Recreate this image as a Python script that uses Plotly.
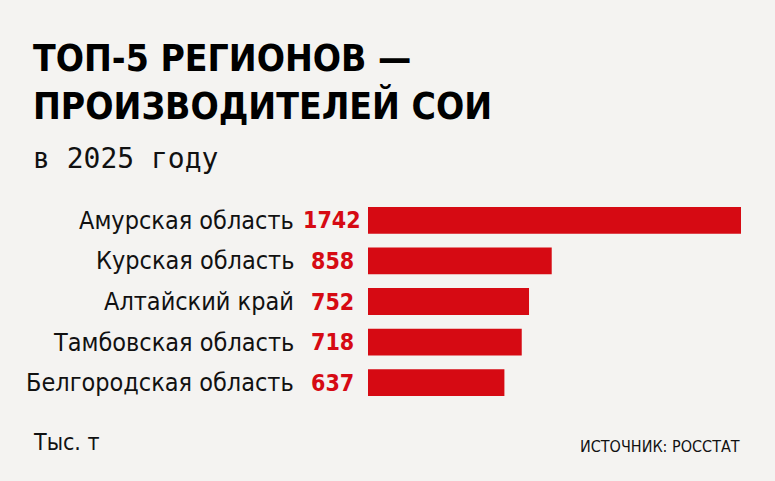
import plotly.graph_objects as go

# data
regions = [
    "Амурская область",
    "Курская область",
    "Алтайский край",
    "Тамбовская область",
    "Белгородская область",
]
values = [1742, 858, 752, 718, 637]
title_lines = ["ТОП-5 РЕГИОНОВ —", "ПРОИЗВОДИТЕЛЕЙ СОИ"]
subtitle = "в 2025 году"
unit_note = "Тыс. т"
source_note = "ИСТОЧНИК: РОССТАТ"

W, H = 775, 481
L, R, T, B = 368, 34, 200, 78
pw = W - L - R
ph = H - T - B

BG = "#f4f3f1"
RED = "#d60a13"
FONT = "DejaVu Sans Condensed, Roboto, sans-serif"


def px_x(x):
    return (x - L) / pw


def px_y(y):
    return (H - B - y) / ph


fig = go.Figure()
fig.add_trace(
    go.Bar(
        x=values,
        y=regions,
        orientation="h",
        marker={"color": RED, "line": {"width": 0}},
        hoverinfo="x+y",
    )
)

annotations = []
for name, v in zip(regions, values):
    annotations.append(dict(
        x=px_x(296), xref="paper", y=name, yref="y",
        text=name, showarrow=False, xanchor="right", yanchor="middle",
        font={"family": FONT, "size": 25, "color": "#111111"},
    ))
    annotations.append(dict(
        x=px_x(332), xref="paper", y=name, yref="y",
        text=f"<b>{v}</b>", showarrow=False, xanchor="center", yanchor="middle",
        font={"family": FONT, "size": 23, "color": RED},
    ))

for line, yc in zip(title_lines, [58, 106]):
    annotations.append(dict(
        x=px_x(31), xref="paper", y=px_y(yc), yref="paper",
        text=f"<b>{line}</b>", showarrow=False, xanchor="left", yanchor="middle",
        font={"family": FONT, "size": 37, "color": "#000000"},
    ))

annotations.append(dict(
    x=px_x(31), xref="paper", y=px_y(158), yref="paper",
    text=subtitle, showarrow=False, xanchor="left", yanchor="middle",
    font={"family": "DejaVu Sans Mono, monospace", "size": 28, "color": "#111111"},
))
annotations.append(dict(
    x=px_x(31), xref="paper", y=px_y(442), yref="paper",
    text=unit_note, showarrow=False, xanchor="left", yanchor="middle",
    font={"family": FONT, "size": 23, "color": "#111111"},
))
annotations.append(dict(
    x=px_x(742), xref="paper", y=px_y(446), yref="paper",
    text=source_note, showarrow=False, xanchor="right", yanchor="middle",
    font={"family": FONT, "size": 16, "color": "#111111"},
))

fig.update_layout(
    width=W,
    height=H,
    margin={"l": L, "r": R, "t": T, "b": B},
    paper_bgcolor=BG,
    plot_bgcolor=BG,
    showlegend=False,
    bargap=0.34,
    xaxis={"range": [0, max(values)], "visible": False, "fixedrange": True},
    yaxis={
        "categoryorder": "array",
        "categoryarray": regions,
        "autorange": "reversed",
        "showticklabels": False,
        "showgrid": False,
        "zeroline": False,
        "fixedrange": True,
    },
    annotations=annotations,
)

fig.write_html(
    "out.html",
    config={"displayModeBar": False},
    post_script="document.body.style.margin='0';document.body.style.background='" + BG + "';",
)
